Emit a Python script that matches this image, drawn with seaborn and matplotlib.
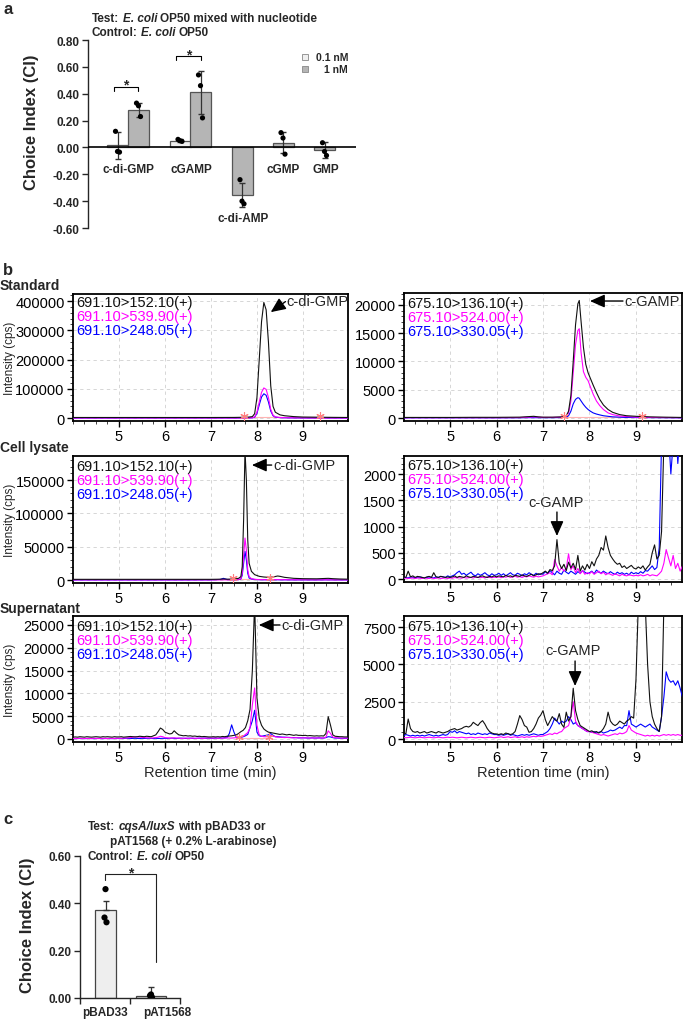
import matplotlib
matplotlib.use("Agg")
import matplotlib.pyplot as plt
import seaborn as sns
from matplotlib.ticker import AutoMinorLocator
from matplotlib.patches import Rectangle

# ----------------------------- data: panel a -----------------------------
a_labels = ["c-di-GMP", "cGAMP", "c-di-AMP", "cGMP", "GMP"]
a_low_mean = [0.015, 0.05]            # 0.1 nM (c-di-GMP, cGAMP)
a_low_err = [0.10, 0.01]
a_low_pts = [[0.12, -0.03, -0.035], [0.06, 0.05, 0.045]]
a_high_mean = [0.28, 0.41, -0.355, 0.035, -0.02]   # 1 nM
a_high_err = [0.05, 0.16, 0.09, 0.08, 0.06]
a_high_pts = [[0.33, 0.31, 0.23], [0.54, 0.46, 0.22], [-0.24, -0.40, -0.42],
              [0.11, 0.07, -0.05], [0.035, -0.03, -0.06]]
a_yticks = [-0.6, -0.4, -0.2, 0.0, 0.2, 0.4, 0.6, 0.8]
a_legend = ["0.1 nM", "1 nM"]

# ----------------------------- data: panel c -----------------------------
c_labels = ["pBAD33", "pAT1568"]
c_mean = [0.373, 0.008]
c_err = [0.035, 0.04]
c_pts = [[0.46, 0.34, 0.32], [0.015, 0.01, 0.003]]
c_yticks = [0.0, 0.2, 0.4, 0.6]

# ----------------------------- data: panel b -----------------------------
chrom_xticks = [5, 6, 7, 8, 9]
mrm_gmp = ["691.10>152.10(+)", "691.10>539.90(+)", "691.10>248.05(+)"]
mrm_gamp = ["675.10>136.10(+)", "675.10>524.00(+)", "675.10>330.05(+)"]

# Standard, c-di-GMP
std_gmp_t = [4.0, 4.5, 5.0, 5.5, 6.0, 6.5, 7.0, 7.5, 7.8, 7.9, 7.95, 8.0, 8.05, 8.1, 8.15, 8.2,
             8.25, 8.3, 8.35, 8.4, 8.5, 8.6, 8.8, 9.0, 9.3, 9.6, 10.0]
std_gmp_k = [2000, 2000, 2000, 2000, 2000, 2000, 2000, 2200, 3000, 5000, 15000, 70000, 200000,
             330000, 395000, 370000, 260000, 110000, 40000, 20000, 11000, 8000, 5000, 3500,
             3000, 2500, 2000]
std_gmp_m = [300, 300, 300, 300, 300, 300, 300, 300, 500, 1000, 4000, 20000, 55000, 88000,
             103000, 98000, 70000, 30000, 10000, 4000, 2000, 1200, 800, 500, 300, 300, 300]
std_gmp_b = [300, 300, 300, 300, 300, 300, 300, 300, 400, 800, 3000, 16000, 45000, 72000,
             83000, 78000, 55000, 24000, 8000, 3000, 1500, 1000, 600, 400, 300, 300, 300]

# Standard, c-GAMP
std_gamp_t = [4.0, 4.5, 5.0, 5.5, 6.0, 6.5, 6.7, 6.8, 6.9, 7.0, 7.2, 7.4, 7.5, 7.55, 7.6, 7.65,
              7.7, 7.75, 7.78, 7.82, 7.87, 7.92, 7.97, 8.02, 8.08, 8.15, 8.22, 8.3, 8.4, 8.5,
              8.65, 8.8, 9.0, 9.3, 9.6, 10.0]
std_gamp_k = [100, 100, 100, 120, 120, 150, 250, 300, 200, 150, 150, 200, 400, 1200, 4000,
              10000, 16500, 20200, 20800, 17000, 12500, 9500, 8000, 7000, 5800, 4500, 3300,
              2300, 1500, 1000, 600, 400, 300, 200, 150, 100]
std_gamp_m = [50, 50, 50, 50, 50, 80, 150, 200, 150, 100, 100, 150, 300, 900, 3000, 8000,
              13000, 15500, 15800, 11500, 8200, 7200, 6600, 5500, 4200, 3000, 2200, 1500, 900,
              600, 350, 250, 150, 100, 80, 50]
std_gamp_b = [30, 30, 30, 30, 30, 40, 60, 60, 50, 50, 50, 80, 150, 400, 1200, 2500, 3300,
              3600, 3500, 3000, 2400, 1900, 1500, 1200, 900, 700, 550, 400, 300, 200, 150,
              100, 80, 60, 50, 30]

# Cell lysate, c-di-GMP
ly_gmp_t = [4.0, 4.5, 5.0, 5.5, 6.0, 6.5, 7.0, 7.2, 7.27, 7.35, 7.5, 7.6, 7.65, 7.68, 7.71,
            7.74, 7.77, 7.8, 7.83, 7.88, 7.95, 8.05, 8.15, 8.25, 8.35, 8.45, 8.5, 8.6, 8.8,
            9.0, 9.3, 9.55, 9.65, 9.8, 10.0]
ly_gmp_k = [1000, 1000, 1000, 1000, 1000, 1000, 1000, 1200, 1500, 1200, 1500, 2500, 5000,
            20000, 90000, 195000, 150000, 60000, 25000, 13000, 8000, 5500, 4500, 4000, 4500,
            6000, 5500, 4000, 2500, 2000, 1800, 2500, 2000, 1500, 1200]
ly_gmp_m = [200, 200, 200, 200, 200, 200, 200, 200, 300, 200, 300, 600, 2000, 10000, 35000,
            63000, 45000, 15000, 5000, 2000, 1000, 600, 500, 400, 500, 600, 500, 400, 300,
            300, 200, 300, 200, 200, 200]
ly_gmp_b = [100, 100, 100, 100, 100, 100, 200, 800, 2500, 800, 300, 500, 1500, 7000, 25000,
            43000, 30000, 10000, 3000, 1500, 800, 500, 400, 300, 300, 400, 300, 300, 200,
            200, 150, 300, 200, 150, 100]

# sampling times (min) for the noisy traces
scan_t = [4.00, 4.05, 4.10, 4.15, 4.20, 4.25, 4.30, 4.35, 4.40, 4.45, 4.50, 4.55, 4.60, 4.65,
          4.70, 4.75, 4.80, 4.85, 4.90, 4.95,
          5.00, 5.05, 5.10, 5.15, 5.20, 5.25, 5.30, 5.35, 5.40, 5.45, 5.50, 5.55, 5.60, 5.65,
          5.70, 5.75, 5.80, 5.85, 5.90, 5.95,
          6.00, 6.05, 6.10, 6.15, 6.20, 6.25, 6.30, 6.35, 6.40, 6.45, 6.50, 6.55, 6.60, 6.65,
          6.70, 6.75, 6.80, 6.85, 6.90, 6.95,
          7.00, 7.05, 7.10, 7.15, 7.20, 7.25, 7.30, 7.35, 7.40, 7.45, 7.50, 7.55, 7.60, 7.65,
          7.70, 7.75, 7.80, 7.85, 7.90, 7.95,
          8.00, 8.05, 8.10, 8.15, 8.20, 8.25, 8.30, 8.35, 8.40, 8.45, 8.50, 8.55, 8.60, 8.65,
          8.70, 8.75, 8.80, 8.85, 8.90, 8.95,
          9.00, 9.05, 9.10, 9.15, 9.20, 9.25, 9.30, 9.35, 9.40, 9.45, 9.50, 9.55, 9.60, 9.65,
          9.70, 9.75, 9.80, 9.85, 9.90, 9.95,
          10.00]

# Cell lysate, c-GAMP
ly_gamp_k = [40, 30, 150, 40, 60, 30, 50, 40, 30, 20, 40, 50, 30, 120, 40, 30, 50, 40, 30, 40,
             30, 40, 60, 30, 50, 40, 30, 60, 40, 30, 50, 40, 30, 50, 60, 40, 30, 50, 40, 60,
             40, 60, 50, 40, 70, 50, 60, 40, 70, 60, 50, 80, 60, 50, 70, 90, 60, 80, 100, 90,
             120, 150, 110, 180, 160, 250, 750, 300, 200, 280, 160, 320, 210, 300, 180, 450,
             150, 250, 170, 280,
             200, 330, 250, 380, 450, 600, 550, 820, 600, 450, 380, 320, 280, 300, 220, 250,
             200, 230, 260, 210,
             190, 230, 200, 250, 170, 230, 280, 500, 650, 380, 450, 900, 2600, 2600, 2600,
             2600, 2600, 2600, 2600, 2600,
             2600]
ly_gamp_m = [10, 20, 10, 15, 20, 10, 20, 15, 10, 20, 15, 10, 20, 10, 15, 20, 10, 15, 20, 10,
             20, 15, 30, 20, 25, 15, 30, 20, 25, 30, 20, 40, 30, 25, 35, 20, 40, 30, 25, 35,
             30, 40, 25, 45, 35, 50, 30, 40, 55, 35, 45, 30, 50, 40, 60, 45, 35, 55, 40, 50,
             60, 80, 100, 120, 80, 370, 250, 150, 220, 150, 200, 480, 180, 250, 120, 200, 100,
             160, 90, 120,
             100, 140, 90, 120, 150, 100, 130, 80, 110, 90, 70, 100, 80, 60, 90, 70, 60, 80,
             70, 60,
             70, 60, 80, 60, 70, 90, 60, 80, 70, 60, 100, 150, 300, 560, 400, 250, 450, 200,
             300, 150,
             250]
ly_gamp_b = [20, 30, 20, 40, 30, 20, 30, 40, 30, 20, 30, 40, 30, 20, 40, 30, 50, 40, 30, 60,
             40, 60, 80, 120, 150, 90, 110, 70, 100, 130, 80, 60, 100, 70, 90, 120, 80, 60,
             100, 70,
             80, 110, 70, 100, 60, 90, 120, 80, 70, 110, 90, 60, 100, 80, 120, 90, 70, 110, 80,
             100,
             90, 140, 100, 160, 120, 80, 150, 110, 90, 170, 130, 100, 150, 120, 90, 140, 110,
             160, 130, 100,
             120, 150, 100, 170, 130, 110, 150, 120, 100, 140, 110, 90, 130, 100, 120, 90, 110,
             80, 130, 100,
             120, 100, 140, 110, 160, 150, 200, 250, 180, 220, 600, 2600, 2600, 3000, 2800,
             2000, 2600, 3000, 2200, 2800,
             2600]

# Supernatant, c-di-GMP
sup_gmp_k = [400, 450, 400, 500, 450, 400, 500, 450, 400, 450, 500, 450, 400, 500, 450, 500,
             450, 400, 500, 450,
             450, 500, 400, 450, 500, 550, 500, 450, 500, 600, 550, 500, 600, 550, 500, 700,
             900, 1600, 2400, 2100,
             1500, 1300, 1100, 1200, 1800, 1300, 900, 800, 700, 750, 650, 700, 600, 650, 550,
             600, 500, 550, 500, 450,
             450, 500, 450, 500, 450, 550, 500, 600, 650, 700, 800, 900, 1200, 1600, 1900,
             2500, 4000, 6500, 15000, 30000,
             9000, 4500, 3000, 2200, 1800, 1500, 1400, 1300, 1200, 1100, 1000, 1100, 1000, 900,
             1000, 900, 800, 900, 800, 800,
             750, 800, 700, 750, 700, 650, 700, 650, 700, 650, 1200, 4900, 3000, 900, 600, 550,
             500, 500, 450, 450,
             450]
sup_gmp_m = [100, 120, 100, 150, 120, 100, 130, 120, 100, 150, 120, 100, 130, 150, 120, 100,
             150, 120, 130, 150,
             150, 150, 200, 200, 250, 300, 400, 500, 450, 400, 350, 300, 250, 250, 200, 250,
             300, 400, 600, 500,
             300, 250, 200, 200, 250, 200, 200, 150, 150, 200, 150, 150, 200, 150, 150, 200,
             150, 150, 200, 200,
             200, 200, 200, 150, 200, 200, 200, 250, 200, 200, 250, 300, 350, 400, 600, 1000,
             1400, 2500, 7500, 11200,
             3000, 900, 600, 500, 500, 500, 800, 600, 500, 400, 400, 350, 300, 350, 300, 300,
             250, 300, 250, 250,
             250, 250, 250, 200, 250, 200, 250, 200, 250, 200, 400, 1800, 1200, 400, 300, 250,
             200, 200, 200, 200,
             200]
sup_gmp_b = [100, 80, 100, 120, 100, 80, 100, 120, 100, 80, 100, 120, 100, 80, 100, 120, 100,
             80, 100, 120,
             100, 120, 100, 150, 120, 100, 130, 150, 120, 100, 150, 120, 130, 150, 120, 100,
             150, 120, 130, 150,
             150, 120, 150, 180, 150, 120, 150, 180, 150, 120, 150, 180, 150, 120, 150, 180,
             150, 200, 150, 180,
             150, 150, 200, 150, 200, 200, 250, 300, 1200, 3100, 1500, 400, 300, 350, 500, 700,
             1000, 2500, 4000, 6300,
             1500, 700, 600, 700, 800, 900, 1200, 800, 500, 500, 450, 400, 400, 350, 350, 300,
             300, 300, 250, 250,
             250, 250, 200, 200, 250, 200, 200, 250, 200, 200, 300, 500, 450, 300, 200, 200,
             150, 150, 150, 150,
             150]

# Supernatant, c-GAMP
sup_gamp_k = [400, 350, 1340, 700, 500, 450, 500, 400, 450, 500, 400, 450, 500, 450, 400, 500,
              450, 400, 450, 500,
              600, 650, 700, 600, 650, 700, 800, 850, 800, 900, 1120, 1000, 900, 1100, 1230,
              1000, 700, 500, 400, 350,
              340, 300, 350, 300, 400, 350, 300, 350, 500, 1000, 1570, 1300, 900, 800, 450, 500,
              700, 1000, 1400, 1600,
              1900, 1300, 900, 1200, 1500, 1300, 1200, 1700, 1000, 780, 1800, 1200, 1500, 3400,
              1900, 1300, 900, 800, 700, 600,
              500, 550, 450, 500, 400, 500, 700, 1000, 1800, 1200, 1000, 900, 1000, 1200, 1100,
              1000, 1200, 1300, 1500, 1400,
              4000, 9000, 9000, 9000, 9000, 5000, 2500, 1500, 1000, 700, 500, 1500, 9000, 9000,
              9000, 9000, 9000, 9000, 9000, 9000,
              9000]
sup_gamp_m = [100, 80, 100, 120, 100, 80, 100, 120, 100, 80, 100, 120, 100, 80, 100, 120, 100,
              80, 100, 120,
              100, 120, 100, 80, 100, 120, 100, 80, 100, 120, 100, 80, 100, 120, 100, 80, 100,
              120, 100, 80,
              100, 120, 150, 100, 120, 150, 100, 120, 150, 100, 120, 150, 100, 150, 120, 150,
              180, 150, 200, 180,
              200, 250, 300, 350, 300, 400, 350, 450, 500, 700, 800, 900, 1500, 2500, 1200, 900,
              800, 700, 600, 500,
              500, 450, 400, 350, 300, 250, 300, 250, 200, 250, 300, 350, 300, 400, 350, 400,
              500, 900, 600, 500,
              400, 350, 300, 250, 200, 250, 200, 250, 200, 250, 200, 250, 300, 250, 300, 250,
              300, 250, 300, 250,
              250]
sup_gamp_b = [200, 300, 250, 200, 250, 200, 250, 200, 250, 200, 250, 300, 250, 200, 250, 200,
              250, 300, 250, 300,
              500, 450, 550, 400, 500, 450, 400, 350, 400, 300, 350, 300, 400, 350, 300, 350,
              300, 400, 350, 300,
              300, 250, 300, 250, 300, 350, 250, 300, 250, 200, 250, 300, 250, 300, 250, 300,
              350, 300, 250, 300,
              300, 400, 500, 700, 1000, 1400, 1200, 1000, 1200, 1100, 1200, 1500, 1300, 1000,
              1100, 900, 800, 700, 600, 500,
              500, 450, 500, 400, 450, 500, 400, 450, 500, 600, 550, 600, 700, 800, 700, 900,
              900, 1900, 1000, 900,
              800, 900, 1000, 900, 800, 900, 1000, 800, 700, 600, 500, 1500, 2800, 4500, 4000,
              3800, 3900, 3600, 3900, 3400,
              2800]

# ----------------------------- styling -----------------------------
sns.set_theme(style="ticks")
plt.rcParams["font.family"] = ["Liberation Sans", "DejaVu Sans"]
plt.rcParams["axes.linewidth"] = 1.0

W, H = 685, 1020
fig = plt.figure(figsize=(6.85, 10.2), dpi=100)
renderer = fig.canvas.get_renderer()


def fx(px):
    return px / W


def fy(py):
    return 1 - py / H


def add_ax(l, t, r, b):
    return fig.add_axes([fx(l), fy(b), (r - l) / W, (b - t) / H])


def ftext(x, y, s, **kw):
    kw.setdefault("va", "center")
    return fig.text(fx(x), fy(y), s, **kw)


def rich(x, y, parts, size):
    gap = 0.278 * size * 100 / 72
    for i, (s, it) in enumerate(parts):
        if i:
            x += gap
        t = ftext(x, y, s, fontsize=size, fontweight="bold",
                  fontstyle="italic" if it else "normal", ha="left")
        x += t.get_window_extent(renderer=renderer).width


# ============================ panel a ============================
ftext(3, 9, "a", fontsize=12, fontweight="bold", ha="left")
rich(92, 19, [("Test:", False), ("E. coli", True), ("OP50 mixed with nucleotide", False)], 8.5)
rich(92, 33, [("Control:", False), ("E. coli", True), ("OP50", False)], 8.5)

axa = add_ax(88, 41, 356, 229)
axa.set_xlim(88, 356)
axa.set_ylim(-0.6, 0.8)
for s in ("top", "right", "bottom"):
    axa.spines[s].set_visible(False)
axa.axhline(0, color="black", lw=1.2, zorder=5)
low_x = [117.5, 180]
high_x = [138.5, 200.5, 242, 283, 324.5]
bw = 21
axa.bar(low_x, a_low_mean, width=bw, color="#efefef", edgecolor="#555555", lw=0.9, zorder=2)
axa.bar(high_x, a_high_mean, width=bw, color="#b5b5b5", edgecolor="#555555", lw=0.9, zorder=2)
axa.errorbar(low_x, a_low_mean, yerr=a_low_err, fmt="none", ecolor="#333333",
             elinewidth=0.9, capsize=2, zorder=3)
axa.errorbar(high_x, a_high_mean, yerr=a_high_err, fmt="none", ecolor="#333333",
             elinewidth=0.9, capsize=2, zorder=3)
px_, py_ = [], []
for xs, pts in ((low_x, a_low_pts), (high_x, a_high_pts)):
    for xc, ps in zip(xs, pts):
        for off, p in zip((-2, 0, 2), ps):
            px_.append(xc + off)
            py_.append(p)
sns.scatterplot(x=px_, y=py_, ax=axa, color="black", s=14, edgecolor="none",
                legend=False, zorder=6)
axa.set_xticks([])
axa.set_yticks(a_yticks)
axa.set_yticklabels([f"{v:.2f}" for v in a_yticks], fontsize=8.5, fontweight="bold")
axa.tick_params(axis="y", length=4, width=1, direction="out", pad=2)
lab_x = [128, 191, 243, 283, 326]
lab_y = [-0.16, -0.16, -0.525, -0.16, -0.16]
for lx, ly, s in zip(lab_x, lab_y, a_labels):
    axa.text(lx, ly, s, ha="center", va="center", fontsize=8.5, fontweight="bold")
# significance brackets
for x0, x1, yb, yl in ((114, 138, 0.453, 0.42), (176, 201, 0.678, 0.65)):
    axa.plot([x0, x0, x1, x1], [yl, yb, yb, yl], color="black", lw=0.8)
    axa.text((x0 + x1) / 2, yb + 0.015, "*", ha="center", va="center", fontsize=10,
             fontweight="bold")
# legend
for (yy, col, lab, ha, lx) in ((58, "#efefef", a_legend[0], "left", 316),
                               (70, "#b5b5b5", a_legend[1], "right", 348)):
    fig.patches.append(Rectangle((fx(302), fy(yy + 3)), 6 / W, 6 / H, transform=fig.transFigure,
                                 facecolor=col, edgecolor="#888888", lw=0.6))
    ftext(lx, yy, lab, fontsize=7.5, fontweight="bold", ha=ha)
ftext(32, 122, "Choice Index (CI)", fontsize=12, fontweight="bold", rotation=90, ha="center")

# ============================ panel b ============================
ftext(3, 271, "b", fontsize=12, fontweight="bold", ha="left")
for yy, s in ((286, "Standard"), (448, "Cell lysate"), (609, "Supernatant")):
    ftext(0, yy, s, fontsize=10, fontweight="bold", ha="left")

COL_K, COL_M, COL_B = "#111111", "#ff00ff", "#0000ff"

panels = [
    dict(rect=(73, 295, 348, 422), xlim=(4.0, 9.98), ylim=(-10000, 424000),
         yticks=[0, 100000, 200000, 300000, 400000],
         t=std_gmp_t, k=std_gmp_k, m=std_gmp_m, b=std_gmp_b, leg=mrm_gmp, ly=303,
         mk=((7.72, 9.37), 2500)),
    dict(rect=(404, 294, 682, 422), xlim=(4.01, 9.99), ylim=(-530, 22120),
         yticks=[0, 5000, 10000, 15000, 20000],
         t=std_gamp_t, k=std_gamp_k, m=std_gamp_m, b=std_gamp_b, leg=mrm_gamp, ly=304,
         mk=((7.45, 9.13), 150)),
    dict(rect=(73, 457, 348, 584), xlim=(4.0, 9.98), ylim=(-4500, 186200),
         yticks=[0, 50000, 100000, 150000],
         t=ly_gmp_t, k=ly_gmp_k, m=ly_gmp_m, b=ly_gmp_b, leg=mrm_gmp, ly=467,
         mk=((7.48, 8.29), 1500)),
    dict(rect=(404, 457, 682, 583), xlim=(4.01, 9.99), ylim=(-57, 2343),
         yticks=[0, 500, 1000, 1500, 2000],
         t=scan_t, k=ly_gamp_k, m=ly_gamp_m, b=ly_gamp_b, leg=mrm_gamp, ly=466, mk=None),
    dict(rect=(73, 617, 348, 743), xlim=(4.0, 9.98), ylim=(-660, 26970),
         yticks=[0, 5000, 10000, 15000, 20000, 25000],
         t=scan_t, k=sup_gmp_k, m=sup_gmp_m, b=sup_gmp_b, leg=mrm_gmp, ly=627,
         mk=((7.6, 8.26), 150)),
    dict(rect=(404, 617, 682, 743), xlim=(4.01, 9.99), ylim=(-200, 8238),
         yticks=[0, 2500, 5000, 7500],
         t=scan_t, k=sup_gamp_k, m=sup_gamp_m, b=sup_gamp_b, leg=mrm_gamp, ly=627, mk=None),
]

axes_b = []
for p in panels:
    l, t, r, b = p["rect"]
    ax = add_ax(l, t, r, b)
    axes_b.append(ax)
    ax.set_xlim(*p["xlim"])
    ax.set_ylim(*p["ylim"])
    ax.grid(True, which="major", ls=(0, (4, 4)), color="#d0d0d0", lw=0.6)
    ax.set_axisbelow(True)
    for col, v in ((COL_B, p["b"]), (COL_M, p["m"]), (COL_K, p["k"])):
        sns.lineplot(x=p["t"], y=v, ax=ax, color=col, lw=0.8, estimator=None,
                     legend=False, zorder=3)
    if p["mk"] is not None:
        (m1, m2), y0 = p["mk"]
        ax.plot([m1, m2], [y0, y0], color="#ffb3b3", lw=0.8, zorder=2)
        ax.plot([m1, m2], [y0 * 2.5, y0 * 2.5], ls="none", marker=(6, 2, 0), ms=6,
                mew=0.8, color="#ff7f7f", zorder=4)
    ax.set_xticks(chrom_xticks)
    ax.set_yticks(p["yticks"])
    ax.set_yticklabels([str(v) for v in p["yticks"]])
    ax.xaxis.set_minor_locator(AutoMinorLocator(4))
    ax.yaxis.set_minor_locator(AutoMinorLocator(5))
    ax.tick_params(which="major", direction="out", length=4, width=1, labelsize=10.5, pad=2,
                   colors="black")
    ax.tick_params(which="minor", direction="out", length=2, width=0.6)
    ax.set_xlabel("")
    ax.set_ylabel("")
    for s in ax.spines.values():
        s.set_linewidth(1.3)
        s.set_color("black")
    for i, (txt, col) in enumerate(zip(p["leg"], (COL_K, COL_M, COL_B))):
        ftext(l + 3, p["ly"] + 14 * i, txt, fontsize=10.5, color=col, ha="left")

arrow = dict(arrowstyle="-|>,head_length=0.9,head_width=0.4", color="black", lw=1.0,
             shrinkA=0, shrinkB=0, mutation_scale=10)
ax = axes_b[0]
ax.annotate("", xy=(8.30, 362000), xytext=(8.62, 398000), arrowprops=arrow)
ax.text(8.64, 400000, "c-di-GMP", fontsize=10.5, ha="left", va="center")
ax = axes_b[1]
ax.annotate("", xy=(8.01, 20700), xytext=(8.72, 20700), arrowprops=arrow)
ax.text(8.76, 20700, "c-GAMP", fontsize=10.5, ha="left", va="center")
ax = axes_b[2]
ax.annotate("", xy=(7.89, 172600), xytext=(8.32, 172600), arrowprops=arrow)
ax.text(8.35, 172600, "c-di-GMP", fontsize=10.5, ha="left", va="center")
ax = axes_b[3]
ax.annotate("", xy=(7.30, 819), xytext=(7.30, 1276), arrowprops=arrow)
ax.text(7.28, 1467, "c-GAMP", fontsize=10.5, ha="center", va="center")
ax = axes_b[4]
ax.annotate("", xy=(8.04, 25000), xytext=(8.50, 25000), arrowprops=arrow)
ax.text(8.53, 25000, "c-di-GMP", fontsize=10.5, ha="left", va="center")
ax = axes_b[5]
ax.annotate("", xy=(7.69, 3550), xytext=(7.69, 5224), arrowprops=arrow)
ax.text(7.65, 5960, "c-GAMP", fontsize=10.5, ha="center", va="center")

for cx in (210, 543):
    ftext(cx, 773, "Retention time (min)", fontsize=10.5, ha="center")
for cy in (358, 520, 680):
    ftext(10, cy, "Intensity (cps)", fontsize=8.5, rotation=90, ha="center")

# ============================ panel c ============================
ftext(3, 819, "c", fontsize=12, fontweight="bold", ha="left")
rich(88, 827, [("Test:", False), ("cqsA/luxS", True), ("with pBAD33 or", False)], 8.5)
rich(110, 842, [("pAT1568 (+ 0.2% L-arabinose)", False)], 8.5)
rich(88, 857, [("Control:", False), ("E. coli", True), ("OP50", False)], 8.5)

axc = add_ax(80, 857, 180, 999)
axc.set_xlim(80, 180)
axc.set_ylim(0, 0.6)
for s in ("top", "right"):
    axc.spines[s].set_visible(False)
c_x = [105.5, 151]
c_w = [21, 30]
axc.bar(c_x, c_mean, width=c_w, color="#eeeeee", edgecolor="#444444", lw=0.9, zorder=2)
axc.errorbar(c_x, c_mean, yerr=[[0, 0], c_err], fmt="none", ecolor="#333333",
             elinewidth=0.9, capsize=2.5, zorder=3)
cpx, cpy = [], []
for xc, ps in zip(c_x, c_pts):
    for off, pv in zip((0, -1, 1), ps):
        cpx.append(xc + off)
        cpy.append(pv)
sns.scatterplot(x=cpx, y=cpy, ax=axc, color="black", s=20, edgecolor="none",
                legend=False, zorder=6)
axc.plot([105, 105, 156, 156], [0.50, 0.524, 0.524, 0.152], color="#222222", lw=0.8)
axc.text(130.5, 0.53, "*", ha="center", va="center", fontsize=10, fontweight="bold")
axc.set_xticks([80, 130, 180])
axc.set_xticklabels([])
axc.set_yticks(c_yticks)
axc.set_yticklabels([f"{v:.2f}" for v in c_yticks], fontsize=8.5, fontweight="bold")
axc.tick_params(axis="both", length=4, width=1, direction="out", pad=2)
for xc, s in zip((105, 167), c_labels):
    axc.text(xc, -0.06, s, ha="center", va="center", fontsize=8.5, fontweight="bold",
             clip_on=False)
ftext(28, 925, "Choice Index (CI)", fontsize=12, fontweight="bold", rotation=90, ha="center")

fig.savefig("out.png", dpi=100)
